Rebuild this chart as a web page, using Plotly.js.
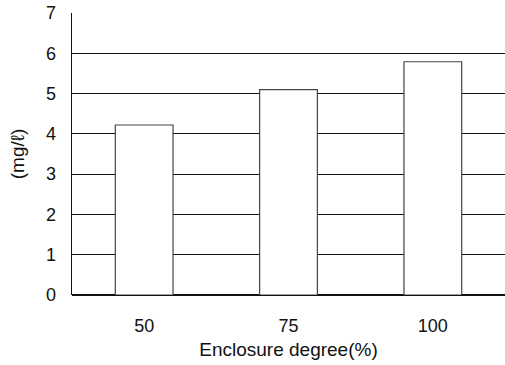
<!DOCTYPE html>
<html><head><meta charset="utf-8">
<script src="https://cdn.plot.ly/plotly-3.0.1.min.js"></script>
<style>body{margin:0;padding:0;background:#fff}#chart{width:505px;height:365px}</style>
</head><body><div id="chart"></div>
<script>
const categories = ['50', '75', '100'];
const values = [4.22, 5.1, 5.79];
const yTicks = [0, 1, 2, 3, 4, 5, 6, 7];

Plotly.newPlot('chart', [{
  type: 'bar',
  x: categories,
  y: values,
  width: 0.4,
  marker: {color: '#ffffff', line: {color: '#444444', width: 1.2}},
  hoverinfo: 'none'
}], {
  width: 505, height: 365,
  margin: {l: 72, r: 0, t: 13, b: 70},
  paper_bgcolor: '#fff', plot_bgcolor: '#fff',
  font: {family: 'Liberation Sans, Arial, sans-serif', size: 18, color: '#111'},
  showlegend: false,
  xaxis: {
    type: 'category', range: [-0.5, 2.5],
    showgrid: false, zeroline: false, showline: false,
    ticks: '', ticklabelstandoff: 18,
    title: {text: 'Enclosure degree(%)', standoff: 7, font: {size: 19}}
  },
  yaxis: {
    range: [0, 7], tickvals: yTicks, ticktext: yTicks.map(String),
    showgrid: true, gridcolor: '#111', gridwidth: 1.2,
    zeroline: true, zerolinecolor: '#111', zerolinewidth: 1.3,
    showline: true, linecolor: '#111', linewidth: 1.3,
    ticks: '', ticklabelstandoff: 11,
    title: {text: '(mg/ℓ)', standoff: 16, font: {size: 19}}
  },
  bargap: 0.6
}, {staticPlot: true});
</script></body></html>
